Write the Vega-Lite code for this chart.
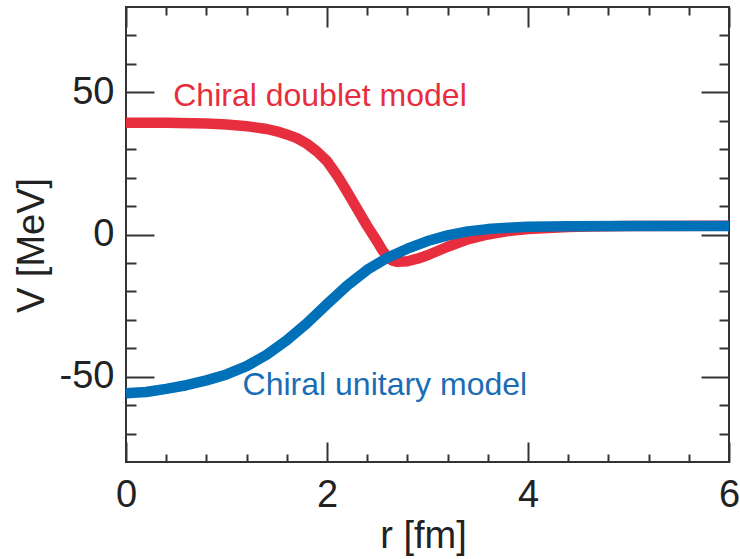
{
  "$schema": "https://vega.github.io/schema/vega-lite/v6.json",
  "width": 603,
  "height": 455,
  "autosize": "none",
  "padding": {"left": 126, "top": 7, "right": 11, "bottom": 97},
  "background": "white",
  "config": {
    "view": {"stroke": "#333333", "strokeWidth": 2},
    "font": "Liberation Sans",
    "axis": {"grid": false, "domain": false, "tickColor": "#333333", "tickWidth": 2, "labelFont": "Liberation Sans", "titleFont": "Liberation Sans", "labelColor": "#222222", "titleColor": "#222222", "titleFontWeight": "normal"}
  },
  "datasets": {
    "curves": [
      {"model": "doublet", "r": 0, "V": 39.3},
      {"model": "doublet", "r": 0.4, "V": 39.3},
      {"model": "doublet", "r": 0.8, "V": 39.0},
      {"model": "doublet", "r": 1.0, "V": 38.7},
      {"model": "doublet", "r": 1.2, "V": 38.1},
      {"model": "doublet", "r": 1.4, "V": 37.1},
      {"model": "doublet", "r": 1.5, "V": 36.3},
      {"model": "doublet", "r": 1.6, "V": 35.2},
      {"model": "doublet", "r": 1.7, "V": 33.9},
      {"model": "doublet", "r": 1.8, "V": 31.9},
      {"model": "doublet", "r": 1.9, "V": 29.2},
      {"model": "doublet", "r": 2.0, "V": 25.8},
      {"model": "doublet", "r": 2.1, "V": 20.8},
      {"model": "doublet", "r": 2.2, "V": 15.0},
      {"model": "doublet", "r": 2.3, "V": 9.0},
      {"model": "doublet", "r": 2.4, "V": 3.0},
      {"model": "doublet", "r": 2.5, "V": -2.5},
      {"model": "doublet", "r": 2.55, "V": -5.5},
      {"model": "doublet", "r": 2.6, "V": -7.8},
      {"model": "doublet", "r": 2.65, "V": -9.2},
      {"model": "doublet", "r": 2.7, "V": -9.6},
      {"model": "doublet", "r": 2.8, "V": -9.4},
      {"model": "doublet", "r": 2.9, "V": -8.5},
      {"model": "doublet", "r": 3.0, "V": -7.3},
      {"model": "doublet", "r": 3.1, "V": -5.8},
      {"model": "doublet", "r": 3.2, "V": -4.3},
      {"model": "doublet", "r": 3.3, "V": -3.0},
      {"model": "doublet", "r": 3.4, "V": -1.7},
      {"model": "doublet", "r": 3.6, "V": 0.0},
      {"model": "doublet", "r": 3.8, "V": 1.2},
      {"model": "doublet", "r": 4.0, "V": 1.9},
      {"model": "doublet", "r": 4.2, "V": 2.3},
      {"model": "doublet", "r": 4.4, "V": 2.6},
      {"model": "doublet", "r": 4.6, "V": 2.8},
      {"model": "doublet", "r": 5.0, "V": 3.0},
      {"model": "doublet", "r": 6.0, "V": 3.1},
      {"model": "unitary", "r": 0, "V": -55.8},
      {"model": "unitary", "r": 0.2, "V": -55.4},
      {"model": "unitary", "r": 0.4, "V": -54.3},
      {"model": "unitary", "r": 0.6, "V": -53.0},
      {"model": "unitary", "r": 0.8, "V": -51.3},
      {"model": "unitary", "r": 1.0, "V": -49.2},
      {"model": "unitary", "r": 1.2, "V": -46.3},
      {"model": "unitary", "r": 1.4, "V": -42.3},
      {"model": "unitary", "r": 1.6, "V": -37.2},
      {"model": "unitary", "r": 1.8, "V": -31.2},
      {"model": "unitary", "r": 2.0, "V": -24.5},
      {"model": "unitary", "r": 2.2, "V": -18.0},
      {"model": "unitary", "r": 2.4, "V": -12.4},
      {"model": "unitary", "r": 2.6, "V": -8.2},
      {"model": "unitary", "r": 2.8, "V": -5.0},
      {"model": "unitary", "r": 3.0, "V": -2.3},
      {"model": "unitary", "r": 3.2, "V": -0.3},
      {"model": "unitary", "r": 3.4, "V": 1.1},
      {"model": "unitary", "r": 3.6, "V": 1.9},
      {"model": "unitary", "r": 3.8, "V": 2.4},
      {"model": "unitary", "r": 4.0, "V": 2.7},
      {"model": "unitary", "r": 4.4, "V": 2.9},
      {"model": "unitary", "r": 5.0, "V": 3.0},
      {"model": "unitary", "r": 6.0, "V": 3.0}
    ],
    "labels": [
      {"model": "doublet", "text": "Chiral doublet model", "r": 0.47, "V": 45.2},
      {"model": "unitary", "text": "Chiral unitary model", "r": 1.16, "V": -56.5}
    ]
  },
  "resolve": {"axis": {"x": "independent", "y": "independent"}},
  "layer": [
    {
      "data": {"name": "curves"},
      "transform": [{"filter": "datum.model === 'doublet'"}],
      "mark": {"type": "line", "color": "#e62e3f", "strokeWidth": 10.5, "strokeCap": "butt", "strokeJoin": "round"},
      "encoding": {
        "x": {"field": "r", "type": "quantitative", "scale": {"domain": [0, 6], "nice": false, "zero": false},
          "axis": {"orient": "bottom", "values": [0, 2, 4, 6], "tickSize": -20, "labelFontSize": 38, "labelPadding": 34, "labelFlush": false, "title": "r [fm]", "titleFontSize": 38, "titleX": 297, "titleY": 85, "titleBaseline": "alphabetic", "titleAlign": "center"}},
        "y": {"field": "V", "type": "quantitative", "scale": {"domain": [-80, 80], "nice": false, "zero": false},
          "axis": {"orient": "left", "values": [-50, 0, 50], "tickSize": -28, "labelFontSize": 38, "labelPadding": 40, "labelExpr": "datum.value < 0 ? '-' + abs(datum.value) : '' + datum.value", "title": "V [MeV]", "titleFontSize": 38, "titleAngle": -90, "titleX": -83, "titleY": 238, "titleBaseline": "alphabetic", "titleAlign": "center"}}
      }
    },
    {
      "data": {"name": "curves"},
      "transform": [{"filter": "datum.model === 'unitary'"}],
      "mark": {"type": "line", "color": "#0070b8", "strokeWidth": 10.5, "strokeCap": "butt", "strokeJoin": "round"},
      "encoding": {
        "x": {"field": "r", "type": "quantitative",
          "axis": {"orient": "bottom", "values": [0.4, 0.8, 1.2, 1.6, 2.4, 2.8, 3.2, 3.6, 4.4, 4.8, 5.2, 5.6], "tickSize": -8, "labels": false, "title": null}},
        "y": {"field": "V", "type": "quantitative",
          "axis": {"orient": "left", "values": [-70, -60, -40, -30, -20, -10, 10, 20, 30, 40, 60, 70], "tickSize": -10, "labels": false, "title": null}}
      }
    },
    {
      "data": {"name": "labels"},
      "transform": [{"filter": "datum.model === 'doublet'"}],
      "mark": {"type": "text", "color": "#e62e3f", "font": "Liberation Sans", "fontSize": 32, "align": "left", "baseline": "alphabetic"},
      "encoding": {
        "text": {"field": "text"},
        "x": {"field": "r", "type": "quantitative",
          "axis": {"orient": "top", "values": [0, 2, 4, 6], "tickSize": -20, "labels": false, "title": null}},
        "y": {"field": "V", "type": "quantitative",
          "axis": {"orient": "right", "values": [-50, 0, 50], "tickSize": -28, "labels": false, "title": null}}
      }
    },
    {
      "data": {"name": "labels"},
      "transform": [{"filter": "datum.model === 'unitary'"}],
      "mark": {"type": "text", "color": "#1a6db5", "font": "Liberation Sans", "fontSize": 32, "align": "left", "baseline": "alphabetic"},
      "encoding": {
        "text": {"field": "text"},
        "x": {"field": "r", "type": "quantitative",
          "axis": {"orient": "top", "values": [0.4, 0.8, 1.2, 1.6, 2.4, 2.8, 3.2, 3.6, 4.4, 4.8, 5.2, 5.6], "tickSize": -8, "labels": false, "title": null}},
        "y": {"field": "V", "type": "quantitative",
          "axis": {"orient": "right", "values": [-70, -60, -40, -30, -20, -10, 10, 20, 30, 40, 60, 70], "tickSize": -10, "labels": false, "title": null}}
      }
    }
  ]
}
